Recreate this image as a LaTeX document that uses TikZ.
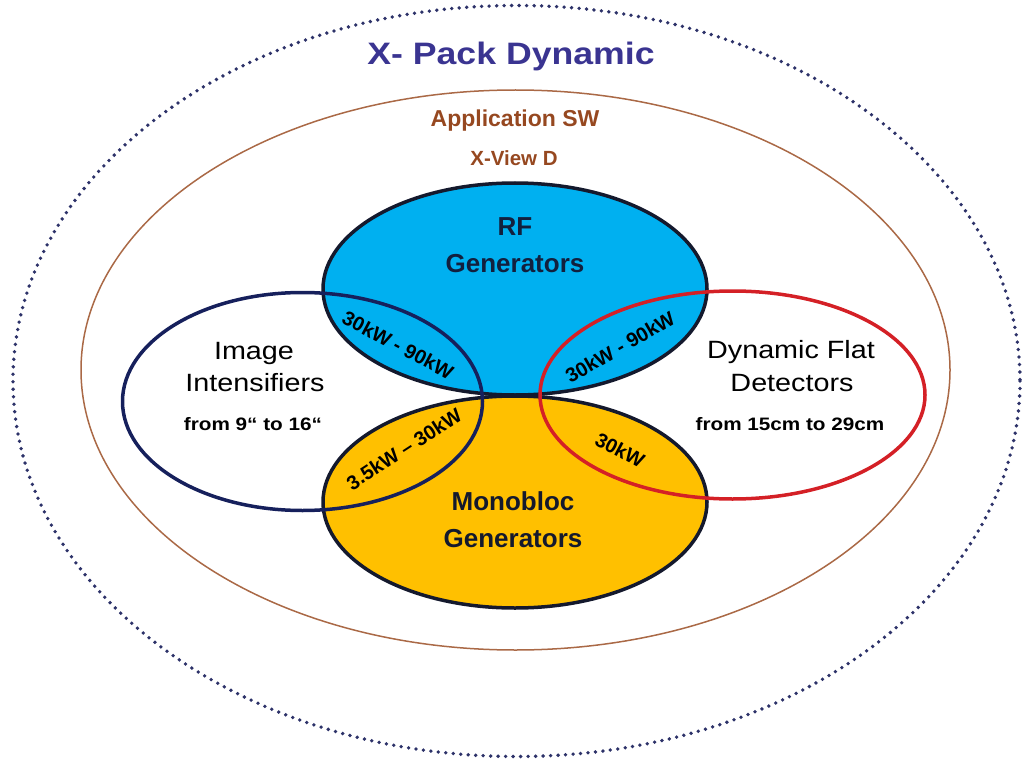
\documentclass[tikz,border=0pt]{standalone}
\usepackage{fontspec}
\setmainfont{Liberation Sans}
\newfontfamily\widesans{Liberation Sans}[FakeStretch=1.15]

\definecolor{rfblue}{RGB}{0,176,240}
\definecolor{monoyellow}{RGB}{255,192,0}
\definecolor{rimdark}{RGB}{20,25,45}
\definecolor{iinavy}{RGB}{22,32,92}
\definecolor{fdred}{RGB}{212,32,38}
\definecolor{swbrown}{RGB}{170,105,70}
\definecolor{swtext}{RGB}{150,72,32}
\definecolor{packblue}{RGB}{58,52,145}
\definecolor{dotblue}{RGB}{45,50,105}
\definecolor{rftext}{RGB}{18,32,62}

\tikzset{
  gentext/.style={font=\bfseries\fontsize{26}{30}\selectfont, anchor=base},
  sidetext/.style={font=\widesans\fontsize{25}{30}\selectfont, anchor=base},
  rangetext/.style={font=\widesans\bfseries\fontsize{18}{22}\selectfont, anchor=base},
  powertext/.style={font=\bfseries\fontsize{20}{24}\selectfont, inner sep=0pt},
  rim/.style={line width=3.5pt}
}

\begin{document}
\begin{tikzpicture}[x=1pt, y=-1pt]
    \useasboundingbox (0,0) rectangle (1022,762);
    % outer dotted ring and the brown application ring
    \draw[dotblue, line width=3.8pt, line cap=round, dash pattern=on 0pt off 7.5pt] (516.5,381) ellipse (503.5 and 375.5);
    \draw[swbrown, line width=1.5pt] (515.5,370) ellipse (434.5 and 280);

    % fill the two generator ellipses, then their dark borders
    \fill[monoyellow] (515,502) ellipse (192 and 106);
    \fill[rfblue] (515,289) ellipse (192 and 106);
    \draw[rimdark, rim] (515,502) ellipse (192 and 106);
    \draw[rimdark, rim] (515,289) ellipse (192 and 106);

    % image intensifiers left, flat detectors right
    \draw[iinavy, rim] (302.5,401.5) ellipse (180 and 109);
    \draw[fdred, rim] (732.5,395) ellipse (192.5 and 104);

    % headings
    \node[font=\widesans\bfseries\fontsize{31}{36}\selectfont, text=packblue, anchor=base] (pack) at (511,65) {X- Pack Dynamic};
    \node[font=\bfseries\fontsize{23}{28}\selectfont, text=swtext, anchor=base] (appsw) at (515,127) {Application SW};
    \node[font=\bfseries\fontsize{20.5}{25}\selectfont, text=swtext, anchor=base] (xview) at (514,166) {X-View D};

    % names inside the ellipses
    \node[gentext, text=rftext] (rf) at (515,235) {RF};
    \node[gentext, text=rftext] (rfgen) at (515,272) {Generators};
    \node[gentext, text=rimdark] (mono) at (513,510) {Monobloc};
    \node[gentext, text=rimdark] (monogen) at (513,547) {Generators};
    \node[sidetext] (image) at (254,359) {Image};
    \node[sidetext] (intens) at (255,391) {Intensifiers};
    \node[rangetext] (iirange) at (253,430) {from 9“ to 16“};
    \node[sidetext] (dynflat) at (791,358) {Dynamic Flat};
    \node[sidetext] (detect) at (792,391) {Detectors};
    \node[rangetext] (fdrange) at (790,430) {from 15cm to 29cm};

    % power ranges in the overlaps
    \node[powertext, rotate=-28] (iirf) at (398,345) {30kW - 90kW};
    \node[powertext, rotate=30] (fdrf) at (620,347) {30kW - 90kW};
    \node[powertext, rotate=33] (iimono) at (404,449) {3.5kW – 30kW};
    \node[powertext, rotate=-28] (fdmono) at (620,450) {30kW};
\end{tikzpicture}
\end{document}
